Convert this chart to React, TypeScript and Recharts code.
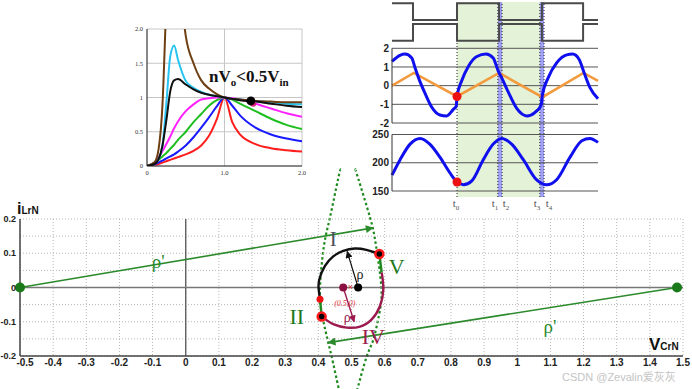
import React from 'react';
import {
  ComposedChart,
  Line,
  XAxis,
  YAxis,
  CartesianGrid,
  ReferenceLine,
  ReferenceDot,
  ReferenceArea,
} from 'recharts';

// ---------- phase plane (V_CrN, i_LrN) ----------
const planeXTicks = [-0.5, -0.4, -0.3, -0.2, -0.1, 0, 0.1, 0.2, 0.3, 0.4, 0.5, 0.6, 0.7, 0.8, 0.9, 1, 1.1, 1.2, 1.3, 1.4, 1.5];
const planeYTicks = [-0.2, -0.1, 0, 0.1, 0.2];
const planeGridY = [-0.2, -0.15, -0.1, -0.05, 0, 0.05, 0.1, 0.15, 0.2];

const rhoLeftLine = [{ x: -0.5, y: 0 }, { x: 0.565, y: 0.174 }];
const rhoRightLine = [{ x: 1.482, y: 0 }, { x: 0.43, y: -0.161 }];
const arcBlack = [
  { x: 0.405, y: -0.034 }, { x: 0.401, y: -0.005 }, { x: 0.403, y: 0.024 }, { x: 0.42, y: 0.063 },
  { x: 0.445, y: 0.091 }, { x: 0.475, y: 0.107 }, { x: 0.51, y: 0.114 }, { x: 0.545, y: 0.11 },
  { x: 0.571, y: 0.102 }, { x: 0.584, y: 0.098 },
];
const arcCrimson = [
  { x: 0.591, y: 0.044 }, { x: 0.596, y: -0.005 }, { x: 0.586, y: -0.054 }, { x: 0.561, y: -0.093 },
  { x: 0.526, y: -0.114 }, { x: 0.486, y: -0.117 }, { x: 0.445, y: -0.107 }, { x: 0.41, y: -0.085 },
];
const segII = [{ x: 0.405, y: -0.034 }, { x: 0.41, y: -0.085 }];
const segV = [{ x: 0.584, y: 0.098 }, { x: 0.591, y: 0.044 }];
const rhoBlackArrow = [{ x: 0.52, y: 0 }, { x: 0.487, y: 0.105 }];
const rhoCrimsonArrow = [{ x: 0.475, y: 0 }, { x: 0.508, y: -0.1 }];
const lensLeft = [
  { x: 0.468, y: 0.345 }, { x: 0.46, y: 0.319 }, { x: 0.435, y: 0.204 }, { x: 0.417, y: 0.122 },
  { x: 0.405, y: 0 }, { x: 0.412, y: -0.083 }, { x: 0.43, y: -0.162 }, { x: 0.44, y: -0.201 },
  { x: 0.46, y: -0.289 }, { x: 0.463, y: -0.3 },
];
const lensRight = [
  { x: 0.512, y: 0.345 }, { x: 0.52, y: 0.319 }, { x: 0.556, y: 0.204 }, { x: 0.574, y: 0.122 },
  { x: 0.59, y: 0 }, { x: 0.583, y: -0.08 }, { x: 0.566, y: -0.152 }, { x: 0.546, y: -0.201 },
  { x: 0.52, y: -0.289 }, { x: 0.517, y: -0.3 },
];
const ringCentres = [{ x: -0.5, y: 0 }, { x: 1.482, y: 0 }];
const switchPoints = [{ x: 0.584, y: 0.098 }, { x: 0.41, y: -0.085 }];
const startPoint = { x: 0.405, y: -0.034 };
const blackCentre = { x: 0.52, y: 0 };
const crimsonCentre = { x: 0.475, y: 0 };

// ---------- gain curves inset ----------
const gainX = [0, 0.1, 0.15, 0.2, 0.25, 0.3, 0.35, 0.4, 0.5, 0.6, 0.7, 0.8, 0.9, 1.0, 1.1, 1.2, 1.4, 1.6, 1.8, 2.0];
const gainBrown = [0, 0.06, 0.25, 0.9, 2.4, 3.6, 3.6, 3.0, 1.9, 1.5, 1.25, 1.13, 1.05, 1.0, 0.98, 0.97, 0.95, 0.94, 0.93, 0.93];
const gainCyan = [0, 0.04, 0.1, 0.3, 0.92, 1.6, 1.76, 1.55, 1.24, 1.14, 1.08, 1.04, 1.02, 1.0, 0.98, 0.97, 0.95, 0.93, 0.91, 0.9];
const gainBlack = [0, 0.03, 0.1, 0.3, 0.67, 1.09, 1.25, 1.27, 1.19, 1.12, 1.07, 1.04, 1.02, 1.0, 0.98, 0.96, 0.94, 0.91, 0.88, 0.86];
const gainMagenta = [0, 0.05, 0.12, 0.22, 0.32, 0.43, 0.55, 0.65, 0.8, 0.9, 0.97, 0.99, 1.0, 1.0, 0.99, 0.97, 0.91, 0.84, 0.77, 0.72];
const gainGreen = [0, 0.05, 0.09, 0.14, 0.19, 0.25, 0.31, 0.38, 0.5, 0.64, 0.76, 0.88, 0.96, 1.0, 0.97, 0.91, 0.8, 0.69, 0.6, 0.54];
const gainBlue = [0, 0.03, 0.05, 0.08, 0.11, 0.14, 0.17, 0.21, 0.3, 0.42, 0.56, 0.71, 0.87, 1.0, 0.88, 0.74, 0.56, 0.46, 0.4, 0.36];
const gainRed = [0, 0.02, 0.03, 0.05, 0.07, 0.09, 0.11, 0.13, 0.17, 0.22, 0.3, 0.44, 0.68, 1.0, 0.64, 0.46, 0.32, 0.26, 0.23, 0.21];
const gainXTicks = [0, 1, 2];
const gainXTickText = ['0', '1.0', '2.0'];
const gainYTicks = [0, 0.5, 1, 1.5, 2];
const gainYTickText = ['0', '0.5', '1', '1.5', '2.0'];
const operatingPoint = { x: 1.34, y: 0.95 };

// ---------- waveform inset ----------
const gateT = [0, 0.5, 1.548, 2.55, 3.57, 4.55, 4.905];
const gateUpper = [3.88, 2.29, 3.88, 2.29, 3.88, 2.29, 2.29];
const gateLower = [0.31, 1.9, 0.31, 1.9, 0.31, 1.9, 1.9];

const currT = [0, 0.19, 0.31, 0.47, 0.55, 0.63, 0.79, 0.94, 1.14, 1.3, 1.46, 1.53, 1.548, 1.66, 1.82, 2.02, 2.24, 2.41, 2.53, 2.61, 2.77, 2.97, 3.21, 3.4, 3.55, 3.58, 3.72, 3.92, 4.16, 4.3, 4.46, 4.56, 4.71, 4.905];
const currV = [1.3, 1.62, 1.69, 1.48, 0.95, 0.43, -0.43, -1.13, -1.57, -1.62, -1.27, -1.1, -0.58, 0.26, 1.04, 1.56, 1.7, 1.48, 0.78, 0.43, -0.35, -1.22, -1.62, -1.44, -1.04, -0.52, 0.43, 1.22, 1.65, 1.69, 1.39, 0.78, -0.09, -0.7];
const magT = [0, 0.52, 1.548, 2.55, 3.58, 4.56, 4.905];
const magV = [0, 0.68, -0.58, 0.68, -0.62, 0.68, 0.25];
const vcT = [0, 0.19, 0.43, 0.67, 0.9, 1.14, 1.38, 1.548, 1.7, 1.9, 2.17, 2.41, 2.61, 2.85, 3.13, 3.44, 3.68, 3.92, 4.24, 4.52, 4.71, 4.905];
const vcV = [178, 205, 233, 243, 233, 210, 182, 166, 161, 168, 205, 233, 243, 233, 205, 170, 161, 170, 210, 239, 243, 236];

const t0 = 1.548;
const shadeStart = [1.548, 2.62];
const shadeEnd = [2.52, 3.52];
const bandStart = [2.52, 3.52];
const bandEnd = [2.62, 3.62];
const dottedTimes = [2.52, 2.62, 3.52, 3.62];
const tLabelTimes = [1.524, 2.452, 2.714, 3.452, 3.738];
const tLabelSubs = ['0', '1', '2', '3', '4'];
const currYTicks = [-2, -1, 0, 1, 2];
const vcYTicks = [150, 200, 250];

const gainRows = gainX.map((x, i) => ({
  x,
  brown: gainBrown[i],
  cyan: gainCyan[i],
  black: gainBlack[i],
  magenta: gainMagenta[i],
  green: gainGreen[i],
  blue: gainBlue[i],
  red: gainRed[i],
}));
const gateRows = gateT.map((t, i) => ({ t, up: gateUpper[i], lo: gateLower[i] }));
const currRows = currT.map((t, i) => ({ t, v: currV[i] }));
const magRows = magT.map((t, i) => ({ t, v: magV[i] }));
const vcRows = vcT.map((t, i) => ({ t, v: vcV[i] }));

const GREEN = '#2b8a2b';
const CRIMSON = '#9c1a4e';
const boldTick = { fill: '#222', fontSize: 10, fontWeight: 'bold' as const, fontFamily: 'Liberation Sans' };
const boldTickSmall = { ...boldTick, fontSize: 9 };
const serifLabel = (fill: string, fontSize: number) => ({ fill, fontSize, fontFamily: 'Liberation Serif' });

// bottom tick of the phase plane; the first label is nudged clear of the y labels
const PlaneXTick = (props: any) => {
  const { x, y, payload, index } = props;
  return (
    <text x={x + (index === 0 ? 5 : 0)} y={y} dy="0.71em" textAnchor="middle" {...boldTick}>
      {payload.value}
    </text>
  );
};

const TLabel = (props: any) => {
  const { x, y, payload } = props;
  const idx = tLabelTimes.indexOf(payload.value);
  return (
    <text x={x} y={y + 10} textAnchor="middle" fill="#555" fontSize={11} fontFamily="Liberation Serif">
      t<tspan fontSize={7} dy={3}>{tLabelSubs[idx]}</tspan>
    </text>
  );
};

function LensLayer() {
  return (
    <ComposedChart width={692} height={389} margin={{ top: 165, right: 9, bottom: 0, left: 20 }}>
      <XAxis dataKey="x" type="number" domain={[-0.5, 1.5]} hide allowDataOverflow />
      <YAxis type="number" domain={[-0.2964, 0.3577]} hide allowDataOverflow />
      {[lensLeft, lensRight].map((arc, i) => (
        <Line key={i} data={arc} dataKey="y" type="natural" stroke="#1e8a1e" strokeWidth={2.2}
          strokeDasharray="2.5 2.5" dot={false} isAnimationActive={false} />
      ))}
    </ComposedChart>
  );
}

function PhasePlane() {
  const lineCommon = { dataKey: 'y', dot: false as const, isAnimationActive: false };
  return (
    <ComposedChart width={692} height={389} margin={{ top: 219, right: 9, bottom: 3, left: 0 }}>
      <CartesianGrid stroke="#b5b5b5" strokeDasharray="1 2" verticalValues={planeXTicks} horizontalValues={planeGridY} />
      <XAxis dataKey="x" type="number" domain={[-0.5, 1.5]} ticks={planeXTicks} interval={0} allowDataOverflow
        height={30} tickSize={0} tickMargin={3} axisLine={{ stroke: '#444', strokeWidth: 1.5 }} tick={<PlaneXTick />} />
      <XAxis xAxisId="top" orientation="top" mirror type="number" domain={[-0.5, 1.5]} ticks={planeXTicks}
        interval={0} height={0} tickSize={4} tickFormatter={() => ''} axisLine={{ stroke: '#444', strokeWidth: 1.5 }}
        tickLine={{ stroke: '#555' }} />
      <YAxis type="number" domain={[-0.2, 0.2]} ticks={planeYTicks} interval={0} allowDataOverflow width={20}
        tickSize={0} tickMargin={4} axisLine={{ stroke: '#444', strokeWidth: 1.5 }} tick={boldTickSmall} />
      <YAxis yAxisId="right" orientation="right" mirror type="number" domain={[-0.2, 0.2]} ticks={planeGridY}
        interval={0} width={0} tickSize={4} tickFormatter={() => ''} axisLine={{ stroke: '#444', strokeWidth: 1.5 }}
        tickLine={{ stroke: '#555' }} />
      <ReferenceLine x={0} stroke="#555" strokeWidth={1.3} />
      <ReferenceLine y={0} stroke="#777" strokeWidth={1.5} />

      <Line {...lineCommon} data={rhoLeftLine} type="linear" stroke={GREEN} strokeWidth={1.6} markerEnd="url(#arrGreen)" />
      <Line {...lineCommon} data={rhoRightLine} type="linear" stroke={GREEN} strokeWidth={1.6} markerEnd="url(#arrGreen)" />
      <Line {...lineCommon} data={arcBlack} type="natural" stroke="#111" strokeWidth={2.4} />
      <Line {...lineCommon} data={arcCrimson} type="natural" stroke={CRIMSON} strokeWidth={2.4} />
      <Line {...lineCommon} data={segII} type="linear" stroke="#1f8a1f" strokeWidth={2.4} />
      <Line {...lineCommon} data={segV} type="linear" stroke="#1f8a1f" strokeWidth={2.4} />
      <Line {...lineCommon} data={rhoBlackArrow} type="linear" stroke="#111" strokeWidth={1.2} markerEnd="url(#arrBlack)" />
      <Line {...lineCommon} data={rhoCrimsonArrow} type="linear" stroke={CRIMSON} strokeWidth={1.4} markerEnd="url(#arrCrimson)" />

      {ringCentres.map((p, i) => (
        <ReferenceDot key={`g${i}`} x={p.x} y={p.y} r={5} fill="#1a7a1a" stroke="none" />
      ))}
      <ReferenceDot x={startPoint.x} y={startPoint.y} r={3.5} fill="#ee1111" stroke="none" />
      <ReferenceDot x={crimsonCentre.x} y={crimsonCentre.y} r={4} fill="#8a1040" stroke="none" />
      <ReferenceDot x={blackCentre.x} y={blackCentre.y} r={4} fill="#000" stroke="none" />
      {switchPoints.map((p, i) => (
        <ReferenceDot key={`s${i}`} x={p.x} y={p.y} r={4} fill="#000" stroke="#ff1a1a" strokeWidth={2.5} />
      ))}

      <ReferenceDot x={-0.083} y={0.078} r={0} label={{ value: "ρ'", ...serifLabel(GREEN, 19) }} />
      <ReferenceDot x={1.099} y={-0.113} r={0} label={{ value: "ρ'", ...serifLabel(GREEN, 19) }} />
      <ReferenceDot x={0.445} y={0.142} r={0} label={{ value: 'I', ...serifLabel('#4a4f5c', 21) }} />
      <ReferenceDot x={0.335} y={-0.083} r={0} label={{ value: 'II', ...serifLabel('#1d7a1d', 22) }} />
      <ReferenceDot x={0.636} y={0.063} r={0} label={{ value: 'V', ...serifLabel('#1d7a1d', 22) }} />
      <ReferenceDot x={0.566} y={-0.142} r={0} label={{ value: 'IV', ...serifLabel(CRIMSON, 22) }} />
      <ReferenceDot x={0.526} y={0.039} r={0} label={{ value: 'ρ', ...serifLabel('#222', 14) }} />
      <ReferenceDot x={0.487} y={-0.085} r={0} label={{ value: 'ρ', ...serifLabel(CRIMSON, 14) }} />
      <ReferenceDot x={0.48} y={-0.046} r={0} label={{ value: '(0.5,0)', fill: '#e0303a', fontSize: 8, fontStyle: 'italic', fontFamily: 'Liberation Serif' }} />
      <ReferenceDot x={0.497} y={0.002} r={0} label={{ value: '×', fill: '#e0303a', fontSize: 9 }} />
    </ComposedChart>
  );
}

function GainInset() {
  const series = [
    { key: 'red', color: '#ff1e1e' },
    { key: 'blue', color: '#1a1aff' },
    { key: 'green', color: '#1fbf1f' },
    { key: 'magenta', color: '#ff22ff' },
    { key: 'cyan', color: '#27c4f2' },
    { key: 'brown', color: '#6e3f12' },
    { key: 'black', color: '#111' },
  ];
  const smallTick = { fill: '#333', fontSize: 6.5, fontFamily: 'Liberation Serif' };
  return (
    <ComposedChart width={180} height={185} data={gainRows} margin={{ top: 29, right: 6, bottom: 7, left: 0 }}>
      <CartesianGrid stroke="#c6c6c6" verticalValues={[1, 2]} horizontalValues={[0.5, 1, 1.5, 2]} />
      <XAxis dataKey="x" type="number" domain={[0, 2]} ticks={gainXTicks} interval={0} allowDataOverflow height={12}
        tickSize={0} tickMargin={4} axisLine={{ stroke: '#111' }} tick={smallTick}
        tickFormatter={(v) => gainXTickText[gainXTicks.indexOf(v)]} />
      <YAxis type="number" domain={[0, 2]} ticks={gainYTicks} interval={0} allowDataOverflow width={19}
        tickSize={0} tickMargin={4} axisLine={{ stroke: '#111' }} tick={smallTick}
        tickFormatter={(v) => gainYTickText[gainYTicks.indexOf(v)]} />
      {series.map((s) => (
        <Line key={s.key} dataKey={s.key} type="monotone" stroke={s.color} strokeWidth={2}
          dot={false} isAnimationActive={false} />
      ))}
      <ReferenceDot x={operatingPoint.x + 0.03} y={operatingPoint.y - 0.04} r={3} fill="#e0207a" stroke="none" />
      <ReferenceDot x={operatingPoint.x} y={operatingPoint.y} r={4.5} fill="#000" stroke="none" />
    </ComposedChart>
  );
}

function WaveBackground() {
  return (
    <ComposedChart width={240} height={215} data={gateRows} margin={{ top: 2, right: 2, bottom: 2, left: 32 }}>
      <XAxis dataKey="t" type="number" domain={[0, 4.905]} ticks={tLabelTimes} interval={0} height={16}
        axisLine={false} tickLine={false} tickSize={0} tickMargin={0} tick={<TLabel />} />
      <YAxis type="number" domain={[0, 1]} hide allowDataOverflow />
      {shadeStart.map((s, i) => (
        <ReferenceArea key={`sh${i}`} x1={s} x2={shadeEnd[i]} y1={0} y2={1} fill="#e4f2d8" fillOpacity={1} stroke="none" />
      ))}
      {bandStart.map((s, i) => (
        <ReferenceArea key={`bd${i}`} x1={s} x2={bandEnd[i]} y1={0} y2={1} fill="#8f8ff2" fillOpacity={0.85} stroke="none" />
      ))}
      <ReferenceLine segment={[{ x: t0, y: 0 }, { x: t0, y: 0.805 }]} stroke="#222" strokeDasharray="1 2" />
      {dottedTimes.map((t, i) => (
        <ReferenceLine key={`d${i}`} x={t} stroke="#222" strokeDasharray="1 2" />
      ))}
      <Line dataKey="up" stroke="none" dot={false} activeDot={false} isAnimationActive={false} />
    </ComposedChart>
  );
}

function GatePanel() {
  return (
    <ComposedChart width={240} height={46} data={gateRows} margin={{ top: 2, right: 2, bottom: 2, left: 32 }}>
      <XAxis dataKey="t" type="number" domain={[0, 4.905]} hide />
      <YAxis type="number" domain={[0, 4]} hide />
      <Line dataKey="up" type="stepAfter" stroke="#4a4a4a" strokeWidth={2} dot={false} isAnimationActive={false} />
      <Line dataKey="lo" type="stepAfter" stroke="#4a4a4a" strokeWidth={2} dot={false} isAnimationActive={false} />
    </ComposedChart>
  );
}

function CurrentPanel() {
  return (
    <ComposedChart width={240} height={90} margin={{ top: 8.3, right: 2, bottom: 7, left: 0 }}>
      <CartesianGrid stroke="#555" vertical={false} horizontalValues={currYTicks} />
      <XAxis dataKey="t" type="number" domain={[0, 4.905]} hide />
      <YAxis type="number" domain={[-2, 2]} ticks={currYTicks} interval={0} width={32} tickSize={0} tickMargin={3}
        axisLine={{ stroke: '#333' }} tick={boldTick} />
      <Line data={magRows} dataKey="v" type="linear" stroke="#f29a3e" strokeWidth={2.6} dot={false} isAnimationActive={false} />
      <Line data={currRows} dataKey="v" type="monotone" stroke="#1010ee" strokeWidth={3} dot={false} isAnimationActive={false} />
      <ReferenceDot x={t0} y={currV[currT.indexOf(t0)]} r={4.5} fill="#ee1111" stroke="none" />
    </ComposedChart>
  );
}

function VoltagePanel() {
  return (
    <ComposedChart width={240} height={68} data={vcRows} margin={{ top: 6.5, right: 2, bottom: 5, left: 0 }}>
      <CartesianGrid stroke="#555" vertical={false} horizontalValues={vcYTicks} />
      <XAxis dataKey="t" type="number" domain={[0, 4.905]} hide />
      <YAxis type="number" domain={[150, 250]} ticks={vcYTicks} interval={0} width={32} tickSize={0} tickMargin={3}
        axisLine={{ stroke: '#333' }} tick={boldTick} />
      <Line dataKey="v" type="monotone" stroke="#1010ee" strokeWidth={3} dot={false} isAnimationActive={false} />
      <ReferenceDot x={t0} y={vcV[vcT.indexOf(t0)]} r={4.5} fill="#ee1111" stroke="none" />
    </ComposedChart>
  );
}

const abs = (left: number, top: number): React.CSSProperties => ({ position: 'absolute', left, top });

export default function App() {
  return (
    <div style={{ position: 'absolute', left: 0, top: 0, width: 692, height: 389, background: '#fff', overflow: 'hidden', fontFamily: 'Liberation Sans, Arial, sans-serif' }}>
      <svg width={0} height={0} style={{ position: 'absolute' }}>
        <defs>
          <marker id="arrGreen" viewBox="0 0 10 10" refX="9" refY="5" markerWidth="6" markerHeight="5" orient="auto">
            <path d="M0,0 L10,5 L0,10 z" fill={GREEN} />
          </marker>
          <marker id="arrBlack" viewBox="0 0 10 10" refX="9" refY="5" markerWidth="6" markerHeight="6" orient="auto">
            <path d="M0,0 L10,5 L0,10 z" fill="#111" />
          </marker>
          <marker id="arrCrimson" viewBox="0 0 10 10" refX="9" refY="5" markerWidth="5" markerHeight="5" orient="auto">
            <path d="M0,0 L10,5 L0,10 z" fill={CRIMSON} />
          </marker>
        </defs>
      </svg>

      <div style={abs(0, 0)}><LensLayer /></div>
      <div style={abs(0, 0)}><PhasePlane /></div>

      <div style={{ ...abs(17, 199), fontWeight: 'bold', color: '#111', lineHeight: '20px', whiteSpace: 'nowrap' }}>
        <span style={{ fontSize: 16 }}>i</span><span style={{ fontSize: 10 }}>LrN</span>
      </div>
      <div style={{ ...abs(649, 335), fontWeight: 'bold', color: '#111', lineHeight: '20px', whiteSpace: 'nowrap' }}>
        <span style={{ fontSize: 17 }}>V</span><span style={{ fontSize: 10 }}>CrN</span>
      </div>

      <div style={abs(128, 0)}><GainInset /></div>
      <div style={{ ...abs(209, 67), fontFamily: 'Liberation Serif', fontWeight: 'bold', fontSize: 17, lineHeight: '20px', color: '#111', whiteSpace: 'nowrap' }}>
        nV<span style={{ fontSize: 11, position: 'relative', top: 4 }}>o</span>&lt;0.5V<span style={{ fontSize: 11, position: 'relative', top: 4 }}>in</span>
      </div>

      <div style={abs(360, 0)}><WaveBackground /></div>
      <div style={abs(360, 0)}><GatePanel /></div>
      <div style={abs(360, 40)}><CurrentPanel /></div>
      <div style={abs(360, 128)}><VoltagePanel /></div>

      <div style={{ ...abs(562, 368), fontSize: 11, color: '#c4c4c4', fontFamily: 'Liberation Sans, Noto Sans CJK SC', whiteSpace: 'nowrap' }}>
        CSDN @Zevalin爱灰灰
      </div>
    </div>
  );
}
